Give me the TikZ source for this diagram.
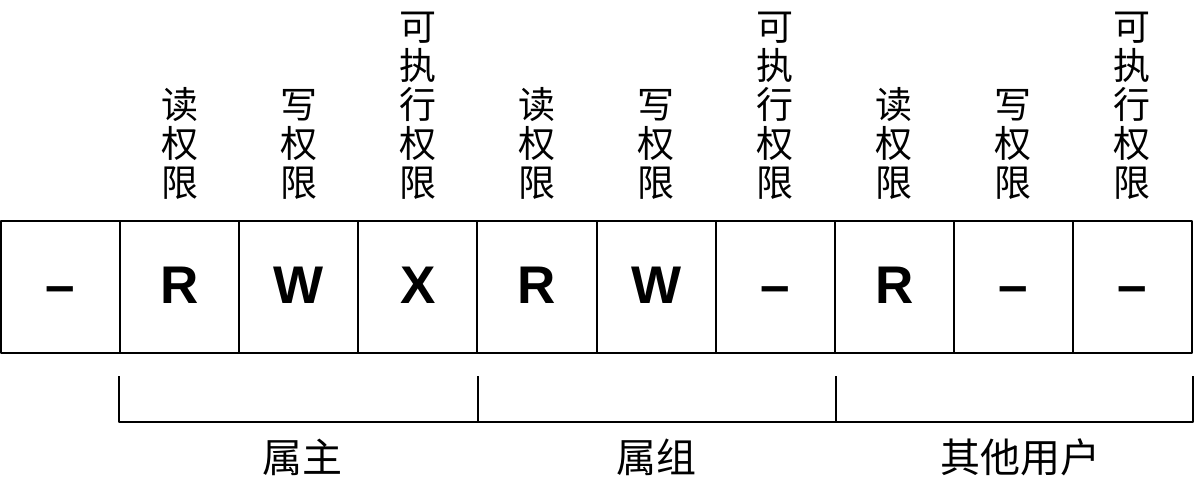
\documentclass[tikz,border=0pt]{standalone}
\usepackage{fontspec}
\setmainfont{Liberation Sans}
\newfontfamily\cjk{Noto Sans CJK SC}
\usetikzlibrary{positioning}
\begin{document}
\begin{tikzpicture}[x=1pt,y=-1pt,line join=round,
    cell/.style={draw,line width=2pt,minimum width=119.1pt,minimum height=132pt,
      inner sep=0pt,text height=38pt,text depth=6pt,font=\fontsize{53}{53}\selectfont\bfseries},
    perm/.style={align=center,inner sep=0pt,font=\cjk\fontsize{37}{39}\selectfont},
    owner/.style={anchor=base,inner sep=0pt,font=\cjk\fontsize{40}{40}\selectfont},
    bracket/.style={line width=2pt}]
    \useasboundingbox (0,0) rectangle (1194,480);
    % permission cells
    \foreach \c [count=\i from 0] in {--,R,W,X,R,W,--,R,--,--}
        \node[cell] (c\i) at ({1+119.1*(\i+0.5)},287) {\c};
    % labels above the cells
    \foreach \t [count=\i] in {{读\\权\\限},{写\\权\\限},{可\\执\\行\\权\\限},
                               {读\\权\\限},{写\\权\\限},{可\\执\\行\\权\\限},
                               {读\\权\\限},{写\\权\\限},{可\\执\\行\\权\\限}}
        \node[perm,above=20pt of c\i] (p\i) {\t};
    % brackets
    \draw[bracket] ([yshift=-22pt]c1.south west) |- ([yshift=-68pt]c3.south east) -- ([yshift=-22pt]c3.south east);
    \draw[bracket] ([yshift=-68pt]c4.south west) -| ([yshift=-22pt]c6.south east);
    \draw[bracket] ([yshift=-68pt]c7.south west) -| ([yshift=-22pt]c9.south east);
    \node[owner] (o1) at ([xshift=4pt]c2.center |- 0,472) {属主};
    \node[owner] (o2) at (c5.center |- 0,472) {属组};
    \node[owner] (o3) at ([xshift=7pt]c8.center |- 0,472) {其他用户};
\end{tikzpicture}
\end{document}
